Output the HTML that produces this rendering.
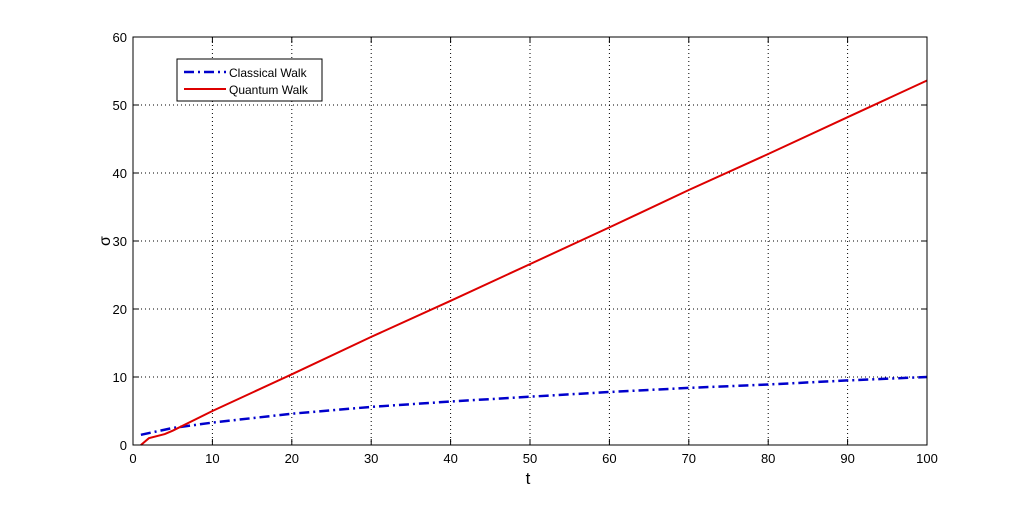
<!DOCTYPE html>
<html><head><meta charset="utf-8"><style>
body{margin:0;background:#fff;width:1024px;height:500px;overflow:hidden}
text{font-family:"Liberation Sans",sans-serif}
</style></head><body>
<svg id="chart" width="1024" height="500" xmlns="http://www.w3.org/2000/svg">
<rect x="133" y="37" width="794" height="408" fill="#fff"/>
<g id="grid"></g><g id="ticks"></g>
<path id="classical" fill="none" stroke="#0000cc" stroke-width="2.5" stroke-dasharray="10,4,2,4"/>
<path id="quantum" fill="none" stroke="#dd0000" stroke-width="2"/>
<rect x="133" y="37" width="794" height="408" fill="none" stroke="#000" stroke-width="1"/>
<text x="528" y="484" font-size="17" text-anchor="middle">t</text>
<text x="0" y="0" font-size="16" text-anchor="middle" transform="translate(110,241) rotate(-90)">σ</text>
<g>
<rect x="177" y="59" width="145" height="42" fill="#fff" stroke="#000"/>
<line x1="184" y1="72" x2="226" y2="72" stroke="#0000cc" stroke-width="2.5" stroke-dasharray="10,4,2,4"/>
<text x="229" y="77" font-size="12">Classical Walk</text>
<line x1="184" y1="89" x2="226" y2="89" stroke="#dd0000" stroke-width="2"/>
<text x="229" y="94" font-size="12">Quantum Walk</text>
</g>
</svg>
<script>
const xTicks=[0,10,20,30,40,50,60,70,80,90,100];
const yTicks=[0,10,20,30,40,50,60];
const classicalT=[1,5,10,20,30,40,50,60,70,80,90,100];
const classicalSigma=[1.5,2.5,3.3,4.6,5.6,6.4,7.1,7.8,8.4,8.9,9.5,10];
const quantumT=[1,2,4,5,10,20,30,40,50,60,70,80,90,100];
const quantumSigma=[0,1.0,1.6,2.1,5.0,10.4,15.9,21.2,26.6,32,37.5,42.8,48.2,53.6];
const X=v=>133+v/100*794, Y=v=>445-v/60*408;
const NS="http://www.w3.org/2000/svg";
const grid=document.getElementById('grid'), ticks=document.getElementById('ticks');
function mk(p,tag,a){const e=document.createElementNS(NS,tag);for(const k in a)e.setAttribute(k,a[k]);p.appendChild(e);return e;}
xTicks.forEach(v=>{
 if(v>0&&v<100){const g=mk(grid,'line',{x1:X(v),x2:X(v),y1:37,y2:445,stroke:'#000','stroke-width':1,'stroke-dasharray':'1,3'});
 
 }
 mk(ticks,'line',{x1:X(v),x2:X(v),y1:445,y2:439,stroke:'#000'});
 mk(ticks,'line',{x1:X(v),x2:X(v),y1:37,y2:43,stroke:'#000'});
 const t=mk(ticks,'text',{x:X(v),y:463,'font-size':13,'text-anchor':'middle'});t.textContent=v;
 
 
});
yTicks.forEach(v=>{
 if(v>0&&v<60){const g=mk(grid,'line',{x1:133,x2:927,y1:Y(v),y2:Y(v),stroke:'#000','stroke-width':1,'stroke-dasharray':'1,3'});
 
 }
 mk(ticks,'line',{x1:133,x2:139,y1:Y(v),y2:Y(v),stroke:'#000'});
 mk(ticks,'line',{x1:927,x2:921,y1:Y(v),y2:Y(v),stroke:'#000'});
 const t=mk(ticks,'text',{x:127,y:Y(v)+5,'font-size':13,'text-anchor':'end'});t.textContent=v;
 
 
});
const path=(ts,vs)=>ts.map((t,i)=>(i?'L':'M')+X(t).toFixed(1)+','+Y(vs[i]).toFixed(1)).join('');
document.getElementById('classical').setAttribute('d',path(classicalT,classicalSigma));
document.getElementById('quantum').setAttribute('d',path(quantumT,quantumSigma));
</script>
</body></html>
